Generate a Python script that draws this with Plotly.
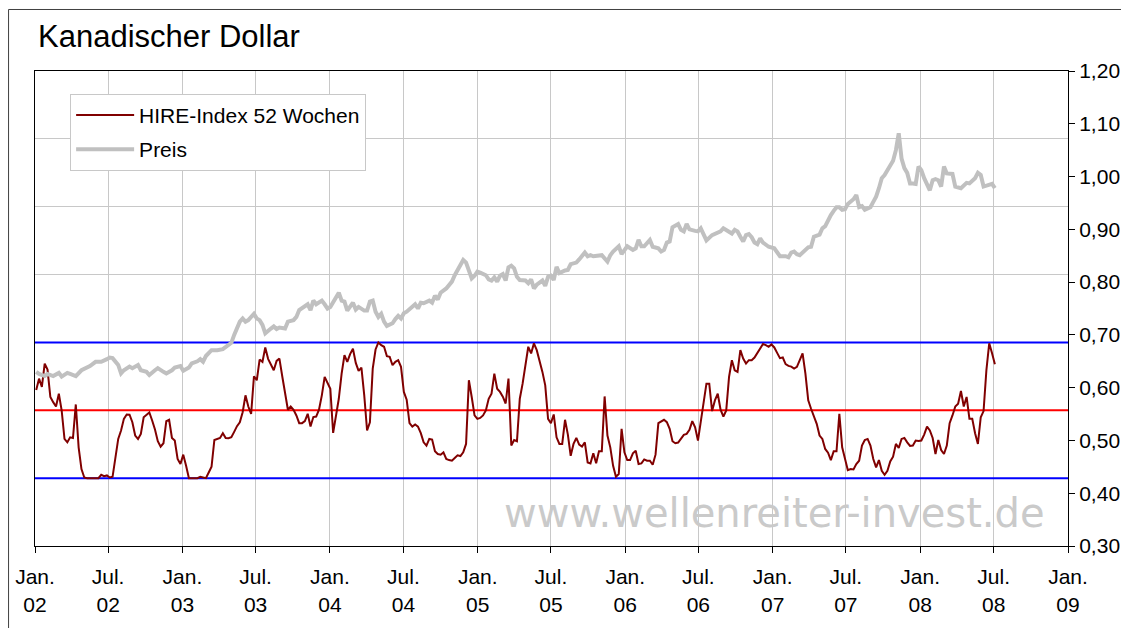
import numpy as np
import pandas as pd
import plotly.graph_objects as go

# Wochendaten ab 4. Januar 2002
start_date = pd.Timestamp("2002-01-04")
x_range = ["2002-01-01", "2009-01-01"]

# HIRE-Index 52 Wochen (0..1), ein Wert pro Woche
hire_values = [
    0.65, 0.733, 0.672, 0.844, 0.80, 0.598, 0.56, 0.528, 0.622, 0.499,
    0.289, 0.264, 0.301, 0.296, 0.543, 0.227, 0.067, 0.005, 0.0, 0.0,
    0.0, 0.0, 0.0, 0.025, 0.015, 0.02, 0.005, 0.01, 0.153, 0.289,
    0.351, 0.437, 0.469, 0.467, 0.412, 0.314, 0.289, 0.326, 0.449, 0.469,
    0.484, 0.425, 0.358, 0.272, 0.232, 0.257, 0.42, 0.43, 0.296, 0.277,
    0.141, 0.104, 0.173, 0.091, 0.0, 0.0, 0.0, 0.0, 0.01, 0.005,
    0.0, 0.042, 0.084, 0.281, 0.289, 0.296, 0.331, 0.296, 0.294, 0.301,
    0.341, 0.383, 0.412, 0.486, 0.61, 0.528, 0.474, 0.751, 0.721, 0.874,
    0.857, 0.963, 0.879, 0.832, 0.795, 0.864, 0.881, 0.751, 0.635, 0.504,
    0.528, 0.504, 0.462, 0.405, 0.405, 0.42, 0.474, 0.38, 0.45, 0.454,
    0.504, 0.61, 0.746, 0.701, 0.659, 0.333, 0.474, 0.585, 0.77, 0.906,
    0.857, 0.914, 0.953, 0.849, 0.79, 0.815, 0.61, 0.351, 0.412, 0.807,
    0.948, 1.0, 0.98, 0.968, 0.899, 0.894, 0.832, 0.857, 0.869, 0.82,
    0.635, 0.578, 0.405, 0.38, 0.395, 0.38, 0.331, 0.264, 0.24, 0.289,
    0.284, 0.198, 0.178, 0.173, 0.19, 0.141, 0.133, 0.128, 0.148, 0.168,
    0.163, 0.19, 0.252, 0.721, 0.598, 0.462, 0.437, 0.444, 0.462, 0.499,
    0.585, 0.622, 0.77, 0.659, 0.635, 0.60, 0.55, 0.733, 0.24, 0.281,
    0.272, 0.585, 0.696, 0.844, 0.968, 0.919, 0.993, 0.943, 0.869, 0.783,
    0.684, 0.437, 0.405, 0.469, 0.301, 0.252, 0.252, 0.43, 0.321, 0.165,
    0.252, 0.296, 0.247, 0.232, 0.264, 0.116, 0.109, 0.183, 0.109, 0.198,
    0.198, 0.602, 0.314, 0.227, 0.091, 0.01, 0.03, 0.363, 0.19, 0.133,
    0.133, 0.183, 0.202, 0.104, 0.109, 0.138, 0.128, 0.128, 0.099, 0.173,
    0.405, 0.417, 0.43, 0.412, 0.363, 0.272, 0.257, 0.262, 0.291, 0.319,
    0.326, 0.356, 0.42, 0.375, 0.277, 0.425, 0.585, 0.696, 0.696, 0.494,
    0.573, 0.622, 0.504, 0.454, 0.499, 0.746, 0.869, 0.795, 0.783, 0.943,
    0.881, 0.844, 0.869, 0.869, 0.889, 0.919, 0.956, 0.988, 0.98, 0.968,
    0.985, 0.963, 0.923, 0.884, 0.889, 0.84, 0.827, 0.822, 0.807, 0.82,
    0.869, 0.919, 0.77, 0.573, 0.511, 0.449, 0.40, 0.314, 0.289, 0.215,
    0.188, 0.133, 0.198, 0.198, 0.474, 0.227, 0.133, 0.059, 0.067, 0.064,
    0.104, 0.128, 0.24, 0.281, 0.289, 0.24, 0.141, 0.079, 0.133, 0.054,
    0.025, 0.054, 0.123, 0.158, 0.252, 0.222, 0.289, 0.296, 0.264, 0.237,
    0.24, 0.277, 0.274, 0.277, 0.321, 0.38, 0.351, 0.296, 0.178, 0.281,
    0.207, 0.178, 0.24, 0.405, 0.462, 0.528, 0.548, 0.642, 0.528, 0.598,
    0.437, 0.437, 0.331, 0.252, 0.449, 0.494, 0.795, 0.993, 0.92, 0.84,
]

# Preis: Wochennummer seit Start und Kurs
price_weeks = [
    0, 1, 3, 4, 6, 8, 9, 11, 12, 14, 16, 18, 19, 21, 23, 25, 26, 27, 29, 30,
    31, 33, 34, 36, 37, 39, 40, 42, 43, 45, 46, 48, 49, 51, 52, 54, 55, 57, 58, 59,
    60, 62, 64, 66, 68, 69, 70, 72, 73, 74, 75, 77, 78, 79, 80, 81, 83, 84, 85, 86,
    88, 89, 91, 92, 93, 95, 96, 97, 98, 99, 101, 102, 103, 104, 106, 107, 108, 109, 110, 112,
    113, 114, 116, 117, 118, 119, 120, 121, 122, 123, 124, 126, 127, 128, 129, 130, 131, 133, 134, 135,
    136, 137, 139, 140, 141, 142, 143, 145, 146, 147, 148, 150, 151, 152, 153, 154, 155, 156, 157, 159,
    160, 161, 162, 163, 164, 165, 166, 167, 168, 169, 170, 171, 173, 174, 175, 176, 177, 179, 180, 181,
    182, 183, 184, 185, 187, 188, 189, 191, 192, 194, 195, 196, 197, 200, 202, 203, 204, 206, 207, 209,
    211, 212, 213, 214, 215, 217, 218, 220, 221, 222, 223, 224, 225, 227, 228, 229, 230, 231, 233, 234,
    235, 236, 237, 239, 240, 242, 243, 245, 246, 247, 248, 249, 250, 251, 252, 253, 254, 255, 256, 257,
    259, 261, 262, 263, 264, 265, 266, 267, 268, 269, 270, 271, 272, 273, 274, 275, 277, 278, 279, 280,
    281, 282, 283, 284, 285, 286, 287, 289, 290, 291, 292, 293, 294, 295, 296, 297, 298, 299, 300, 301,
    302, 303, 304, 305, 306, 307, 308, 309, 310, 311, 312, 313, 314, 315, 316, 317, 318, 319, 320, 321,
    322, 324, 325, 327, 328, 329, 330, 331, 332, 333, 334, 335, 337, 338, 339,
]
price_values = [
    0.630, 0.626, 0.622, 0.626, 0.622, 0.628, 0.621, 0.628, 0.626, 0.622, 0.633, 0.637, 0.641, 0.649, 0.649, 0.654, 0.657, 0.656, 0.643, 0.627,
    0.633, 0.640, 0.637, 0.643, 0.633, 0.630, 0.624, 0.633, 0.637, 0.630, 0.627, 0.633, 0.638, 0.641, 0.632, 0.638, 0.646, 0.650, 0.654, 0.649,
    0.660, 0.671, 0.671, 0.673, 0.681, 0.685, 0.700, 0.725, 0.731, 0.725, 0.728, 0.740, 0.731, 0.728, 0.719, 0.703, 0.712, 0.716, 0.711, 0.714,
    0.712, 0.725, 0.728, 0.734, 0.747, 0.755, 0.758, 0.747, 0.765, 0.758, 0.765, 0.758, 0.750, 0.753, 0.772, 0.780, 0.765, 0.763, 0.746, 0.761,
    0.748, 0.753, 0.746, 0.746, 0.763, 0.765, 0.744, 0.734, 0.740, 0.725, 0.717, 0.722, 0.730, 0.736, 0.731, 0.741, 0.744, 0.753, 0.758, 0.750,
    0.761, 0.760, 0.765, 0.761, 0.774, 0.767, 0.780, 0.788, 0.794, 0.801, 0.813, 0.832, 0.842, 0.837, 0.823, 0.807, 0.812, 0.820, 0.818, 0.813,
    0.805, 0.803, 0.809, 0.801, 0.812, 0.815, 0.803, 0.828, 0.831, 0.826, 0.810, 0.804, 0.803, 0.798, 0.805, 0.788, 0.795, 0.803, 0.793, 0.810,
    0.812, 0.804, 0.829, 0.817, 0.822, 0.823, 0.834, 0.837, 0.843, 0.856, 0.849, 0.851, 0.849, 0.851, 0.839, 0.851, 0.858, 0.868, 0.853, 0.868,
    0.861, 0.864, 0.880, 0.868, 0.868, 0.880, 0.867, 0.864, 0.858, 0.861, 0.875, 0.877, 0.904, 0.910, 0.899, 0.896, 0.910, 0.900, 0.897, 0.896,
    0.902, 0.889, 0.879, 0.889, 0.892, 0.896, 0.902, 0.896, 0.892, 0.899, 0.896, 0.886, 0.877, 0.889, 0.891, 0.885, 0.875, 0.872, 0.883, 0.875,
    0.867, 0.864, 0.855, 0.849, 0.849, 0.849, 0.847, 0.856, 0.858, 0.853, 0.851, 0.856, 0.861, 0.866, 0.867, 0.886, 0.890, 0.902, 0.906, 0.918,
    0.927, 0.935, 0.942, 0.942, 0.937, 0.938, 0.948, 0.957, 0.965, 0.942, 0.944, 0.937, 0.940, 0.942, 0.952, 0.962, 0.978, 0.997, 1.003, 1.012,
    1.019, 1.030, 1.050, 1.082, 1.034, 1.016, 1.007, 0.987, 0.987, 0.986, 1.019, 1.012, 0.997, 0.987, 0.974, 0.993, 0.995, 0.993, 0.981, 1.019,
    1.006, 1.005, 0.981, 0.978, 0.982, 0.988, 0.987, 0.993, 0.997, 1.007, 1.003, 0.981, 0.984, 0.986, 0.978,
]

band_levels = [0.0, 0.5, 1.0]
band_colors = ["#0000ff", "#ff0000", "#0000ff"]

tick_dates = []
tick_text = []
for year in range(2002, 2010):
    tick_dates.append(f"{year}-01-01")
    tick_text.append(f"Jan.<br>{year % 100:02d}")
    if year < 2009:
        tick_dates.append(f"{year}-07-01")
        tick_text.append(f"Jul.<br>{year % 100:02d}")

hire_dates = start_date + pd.to_timedelta(np.arange(len(hire_values)) * 7, unit="D")
price_dates = start_date + pd.to_timedelta(np.array(price_weeks) * 7, unit="D")

FONT = "Liberation Sans, Arial, sans-serif"

fig = go.Figure()

# Baender bei 0, 0,5 und 1 (ueber die ganze Zeitachse)
for level, color in zip(band_levels, band_colors):
    fig.add_trace(go.Scatter(x=x_range, y=[level, level], mode="lines", yaxis="y",
                             line=dict(color=color, width=2), showlegend=False,
                             hoverinfo="skip"))

fig.add_trace(go.Scatter(x=price_dates, y=price_values, name="Preis", mode="lines",
                         line=dict(color="#c0c0c0", width=4), yaxis="y2",
                         legendrank=2, legendgroup="p"))
fig.add_trace(go.Scatter(x=hire_dates, y=hire_values, name="HIRE-Index 52 Wochen", mode="lines",
                         line=dict(color="#800000", width=2), yaxis="y",
                         legendrank=1, legendgroup="h"))

# aeusserer Rahmen
fig.add_shape(type="rect", xref="paper", yref="paper", x0=-0.0256, x1=1.2, y0=-0.4, y1=1.1295,
              line=dict(color="#404040", width=1), layer="below")

fig.add_annotation(text="www.wellenreiter-invest.de", xref="paper", yref="paper",
                   x=0.716, y=0.069, xanchor="center", yanchor="middle", showarrow=False,
                   font=dict(family="DejaVu Sans", size=40, color="#cacaca"))

fig.update_layout(
    width=1129, height=628,
    margin=dict(l=27, r=69, t=63, b=90, autoexpand=False),
    paper_bgcolor="white", plot_bgcolor="white",
    separators=",.",
    font=dict(family=FONT, size=21, color="black"),
    title=dict(text="Kanadischer Dollar", xref="container", yref="container",
               x=30 / 1129, y=1 - 28 / 628, xanchor="left", yanchor="middle",
               font=dict(family=FONT, size=31, color="black")),
    legend=dict(x=0.034, y=0.952, xanchor="left", yanchor="top",
                bgcolor="white", bordercolor="#c8c8c8", borderwidth=1,
                itemwidth=58, tracegroupgap=4,
                font=dict(family=FONT, size=21)),
    xaxis=dict(type="date", range=x_range, automargin=False,
               tickvals=tick_dates, ticktext=tick_text, tickangle=0,
               showgrid=True, gridcolor="#c8c8c8", gridwidth=1,
               ticks="outside", ticklen=6, tickcolor="black", ticklabelstandoff=6,
               showline=True, linecolor="black", linewidth=1, mirror=True),
    yaxis=dict(range=[-0.5, 3.0], dtick=0.5, showgrid=True, gridcolor="#c8c8c8",
               showticklabels=False, zeroline=False, automargin=False,
               showline=True, linecolor="black", linewidth=1),
    yaxis2=dict(overlaying="y", side="right", range=[0.3, 1.2], dtick=0.1,
                tickformat=".2f", showgrid=False, zeroline=False, automargin=False,
                ticks="outside", ticklen=6, tickcolor="black",
                showline=True, linecolor="black", linewidth=1),
)

fig.write_html("out.html")
